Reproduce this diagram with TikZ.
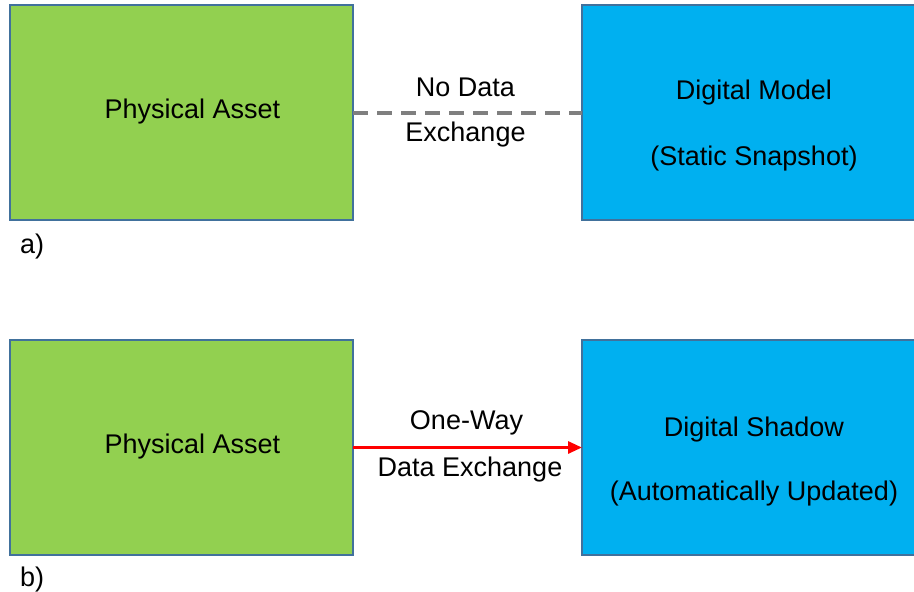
\documentclass[tikz,border=0pt]{standalone}
\usepackage{fontspec}
\setmainfont{Liberation Sans}
\usetikzlibrary{arrows.meta}
\definecolor{pgreen}{HTML}{92D050}
\definecolor{dblue}{HTML}{00B0F0}
\definecolor{bord}{HTML}{41719C}
\definecolor{dgray}{HTML}{7F7F7F}
\begin{document}
\begin{tikzpicture}[x=1pt,y=-1pt,
  box/.style={draw=bord,line width=1.2pt,minimum width=#1,minimum height=215pt,inner sep=0pt,outer sep=0pt},
  greenbox/.style={box=343pt,fill=pgreen},
  bluebox/.style={box=342pt,fill=dblue},
  txt/.style={font=\fontsize{27}{32}\selectfont,inner sep=0pt,anchor=center},
  lbl/.style={font=\fontsize{27}{32}\selectfont,inner sep=0pt,anchor=west}]
\useasboundingbox (0,0) rectangle (914,592);
\clip (0,0) rectangle (914,592);
% a)
\node[greenbox] (pa) at (181.5,112.5) {};
\node[bluebox] (dm) at (753,112.5) {};
\node[txt] (pat) at (192.5,112) {Physical Asset};
\node[txt] (dm1) at (754,93) {Digital Model};
\node[txt] (dm2) at (754,159) {(Static Snapshot)};
\draw[dgray,line width=4pt,dash pattern=on 15pt off 9pt] (pa.east) -- (dm.west);
\node[txt] (nd1) at (465.5,87) {No Data};
\node[txt] (nd2) at (465.5,135) {Exchange};
\node[lbl] (la) at (20,247) {a)};
% b)
\node[greenbox] (pb) at (181.5,447.5) {};
\node[bluebox] (ds) at (753,447.5) {};
\node[txt] (pbt) at (192.5,447) {Physical Asset};
\node[txt] (ds1) at (754,430) {Digital Shadow};
\node[txt] (ds2) at (754,494) {(Automatically Updated)};
\draw[red,line width=3pt,-{Triangle[length=14pt,width=12pt]}] (pb.east) -- (ds.west);
\node[txt] (ow1) at (466.5,423) {One-Way};
\node[txt] (ow2) at (470,470) {Data Exchange};
\node[lbl] (lb) at (20,580) {b)};
\end{tikzpicture}
\end{document}
